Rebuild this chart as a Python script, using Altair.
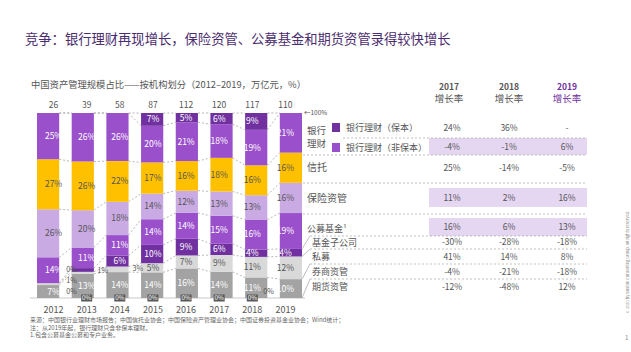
import altair as alt
import pandas as pd

# ---------------- data ----------------
years = ["2012", "2013", "2014", "2015", "2016", "2017", "2018", "2019"]
totals = [26, 39, 58, 87, 112, 120, 117, 110]

cats = ["期货资管", "券商资管", "私募", "基金子公司", "公募基金", "保险资管", "信托",
        "银行理财（非保本）", "银行理财（保本）"]
futures = [0, 0, 0, 0, 0, 0, 0, 0]
brokers = [7, 13, 14, 14, 16, 14, 11, 10]
private = [1, 1, 3, 5, 7, 9, 11, 12]
fund_sub = [0, 2, 6, 10, 9, 6, 4, 4]
mutual = [14, 11, 11, 14, 14, 15, 16, 19]
insurance = [26, 20, 18, 14, 12, 13, 13, 16]
trust = [27, 26, 22, 17, 16, 18, 16, 16]
bank_np = [25, 26, 26, 20, 21, 18, 19, 21]
bank_gp = [0, 0, 0, 7, 5, 6, 9, 0]
series = [futures, brokers, private, fund_sub, mutual, insurance, trust, bank_np, bank_gp]

row_labels = ["银行理财（保本）", "银行理财（非保本）", "信托", "保险资管", "公募基金¹",
              "基金子公司", "私募", "券商资管", "期货资管"]
g2017 = ["24%", "-4%", "25%", "11%", "16%", "-30%", "41%", "-4%", "-12%"]
g2018 = ["36%", "-1%", "-14%", "2%", "6%", "-28%", "14%", "-21%", "-48%"]
g2019 = ["-", "6%", "-5%", "16%", "13%", "-18%", "8%", "-18%", "12%"]

title = "竞争：银行理财再现增长，保险资管、公募基金和期货资管录得较快增长"
subtitle = "中国资产管理规模占比——按机构划分（2012–2019，万亿元，%）"
notes = ["来源：中国银行业理财市场报告；中国信托业协会；中国保险资产管理业协会；中国证券投资基金业协会；Wind统计；",
         "注：从2019年起，银行理财只含非保本理财。",
         "1.包含公募基金公募和专户业务。"]

# ---------------- styles / layout ----------------
colors = ["#595959", "#a3a3a3", "#d9d9d9", "#7030a0", "#9a4fcb", "#c9aae3", "#ffc000",
          "#9a4fcb", "#7030a0"]
white_cats = ["券商资管", "基金子公司", "公募基金", "银行理财（非保本）", "银行理财（保本）"]
FONT = "Noto Sans CJK SC"
GREY = "#555555"

xsc = alt.Scale(domain=years, range=[37, 302], paddingInner=0.36, paddingOuter=0)
ysc = alt.Scale(domain=[0, 1], range=[298, 113], nice=False, zero=False)

# ---------------- derived tables ----------------
seg_rows = []
for j, yr in enumerate(years):
    s = sum(ser[j] for ser in series)
    cum = 0
    for c, ser in zip(cats, series):
        v = ser[j]
        seg_rows.append(dict(year=yr, cat=c, v=v, y0=cum / s, y1=(cum + v) / s,
                             mid=(cum + v / 2) / s, label=f"{v}%"))
        cum += v
seg = pd.DataFrame(seg_rows)

conn_rows = []
for j in range(len(years) - 1):
    for c in cats[1:]:
        a = seg[(seg.year == years[j]) & (seg.cat == c)].iloc[0]
        b = seg[(seg.year == years[j + 1]) & (seg.cat == c)].iloc[0]
        conn_rows.append(dict(year=years[j], next=years[j + 1], ya=a.y1, yb=b.y1))
conn = pd.DataFrame(conn_rows)

tot = pd.DataFrame(dict(year=years, t=[str(t) for t in totals]))

bars = alt.Chart(seg).mark_bar().encode(
    x=alt.X("year:N", scale=xsc, axis=None),
    y=alt.Y("y0:Q", scale=ysc, axis=None),
    y2="y1:Q",
    color=alt.Color("cat:N", scale=alt.Scale(domain=cats, range=colors), legend=None),
)

inside = seg[(seg.v >= 4)]
lab_w = alt.Chart(inside[inside.cat.isin(white_cats)]).mark_text(
    fontSize=8.5, color="white", font=FONT).encode(
    x=alt.X("year:N", scale=xsc, axis=None), y=alt.Y("mid:Q", scale=ysc, axis=None), text="label:N")
lab_d = alt.Chart(inside[~inside.cat.isin(white_cats)]).mark_text(
    fontSize=8.5, color=GREY, font=FONT).encode(
    x=alt.X("year:N", scale=xsc, axis=None), y=alt.Y("mid:Q", scale=ysc, axis=None), text="label:N")

# small segments labelled outside the bar: (year, category, dx, dy)
outside = [("2012", "基金子公司", 18, -13), ("2012", "私募", 18, -3), ("2012", "期货资管", 18, -6),
           ("2013", "私募", 16, -2), ("2014", "私募", 18, 0), ("2019", "期货资管", -17, -6)]
out_layers = []
for yr, c, dx, dy in outside:
    d = seg[(seg.year == yr) & (seg.cat == c)]
    out_layers.append(alt.Chart(d).mark_text(fontSize=7.2, color=GREY, dx=dx, dy=dy, font=FONT).encode(
        x=alt.X("year:N", scale=xsc, axis=None), y=alt.Y("mid:Q", scale=ysc, axis=None), text="label:N"))

# dark 0% boxes for futures (2013–2018)
box_years = pd.DataFrame(dict(year=years[1:7], t=["0%"] * 6))
boxes = alt.Chart(box_years).mark_point(
    shape="M-1,-0.64H1V0.64H-1Z", size=121, filled=True, opacity=1, color="#595959").encode(
    x=alt.X("year:N", scale=xsc, axis=None), y=alt.Y(datum=0, scale=ysc, axis=None))
box_txt = alt.Chart(box_years).mark_text(fontSize=6.3, color="white", font=FONT).encode(
    x=alt.X("year:N", scale=xsc, axis=None), y=alt.Y(datum=0, scale=ysc, axis=None), text="t:N")

connectors = alt.Chart(conn).mark_rule(strokeDash=[2, 2], color="#9a9a9a", strokeWidth=0.7).encode(
    x=alt.X("year:N", scale=xsc, axis=None, bandPosition=1),
    x2=alt.X2("next:N", bandPosition=0),
    y=alt.Y("ya:Q", scale=ysc, axis=None),
    y2="yb:Q",
)

totals_txt = alt.Chart(tot).mark_text(fontSize=8.5, color=GREY, baseline="bottom", dy=-3, font=FONT).encode(
    x=alt.X("year:N", scale=xsc, axis=None), y=alt.Y(datum=1, scale=ysc, axis=None), text="t:N")
years_txt = alt.Chart(tot).mark_text(fontSize=9, color=GREY, font=FONT).encode(
    x=alt.X("year:N", scale=xsc, axis=None), y=alt.value(310), text="year:N")

baseline = alt.Chart(tot.head(1)).mark_rule(color="#bbbbbb", strokeWidth=0.8).encode(
    x=alt.value(30), x2=alt.value(305), y=alt.Y(datum=0, scale=ysc, axis=None))

# leader lines from the 2019 bar to the row labels
lead_cats = ["基金子公司", "私募", "券商资管", "期货资管"]
lead_ys = [236, 249, 264, 279]
lead_layers = []
for c, py in zip(lead_cats, lead_ys):
    d = seg[(seg.year == "2019") & (seg.cat == c)]
    lead_layers.append(alt.Chart(d).mark_rule(color="#a0a0a0", strokeWidth=0.7).encode(
        x=alt.X("year:N", scale=xsc, axis=None, bandPosition=1), x2=alt.value(310),
        y=alt.Y("y1:Q", scale=ysc, axis=None), y2=alt.value(py)))


def ptext(df, size, color, align="left", weight="normal", angle=0):
    return alt.Chart(df).mark_text(fontSize=size, color=color, align=align, baseline="middle",
                                   fontWeight=weight, angle=angle, font=FONT).encode(
        x=alt.X("px:Q", scale=None, axis=None), y=alt.Y("py:Q", scale=None, axis=None), text="t:N")


def prect(df, color):
    return alt.Chart(df).mark_rect(color=color).encode(
        x=alt.X("x1:Q", scale=None, axis=None), x2="x2:Q",
        y=alt.Y("y1:Q", scale=None, axis=None), y2="y2:Q")


# highlighted table rows
hl = pd.DataFrame(dict(x1=[429, 429, 429], x2=[587, 587, 587], y1=[138, 188, 218], y2=[155, 207, 236]))
highlight = prect(hl, "#e5d6f2")

# dashed row separators
sep = pd.DataFrame(dict(x1=[343, 303, 303, 303, 310, 310, 310, 310],
                        x2=[587] * 8,
                        y1=[138, 155, 183, 214, 236, 249, 264, 279]))
separators = alt.Chart(sep).mark_rule(strokeDash=[2, 2], color="#a8a8a8", strokeWidth=0.7).encode(
    x=alt.X("x1:Q", scale=None, axis=None), x2="x2:Q", y=alt.Y("y1:Q", scale=None, axis=None))

# legend squares
sq = pd.DataFrame(dict(x1=[332, 332], x2=[340, 340], y1=[123, 143], y2=[132, 152]))
sq_dark = prect(sq.head(1), "#7030a0")
sq_mid = prect(sq.tail(1), "#9a4fcb")

# right-side labels
bank_lbl = pd.DataFrame(dict(t=["银行", "理财"], px=[307, 307], py=[131, 144]))
big_lbl = pd.DataFrame(dict(t=["信托", "保险资管"], px=[307, 307], py=[168, 199]))
leg_lbl = pd.DataFrame(dict(t=row_labels[:2], px=[346, 346], py=[128, 148]))
small_lbl = pd.DataFrame(dict(t=row_labels[4:], px=[307, 312, 312, 312, 312], py=[229, 243, 257, 272, 287]))

row_y = [128, 147, 168, 198, 227, 242, 257, 272, 287]
tab = pd.DataFrame(dict(t=g2017 + g2018 + g2019,
                        px=[452] * 9 + [509] * 9 + [567] * 9,
                        py=row_y * 3))

hdr_year = pd.DataFrame(dict(t=["2017", "2018"], px=[449, 509], py=[87, 87]))
hdr_rate = pd.DataFrame(dict(t=["增长率", "增长率"], px=[449, 509], py=[99, 99]))
hdr_2019 = pd.DataFrame(dict(t=["2019"], px=[567], py=[87]))
hdr_2019r = pd.DataFrame(dict(t=["增长率"], px=[567], py=[99]))

arrow = pd.DataFrame(dict(t=["←100%"], px=[304], py=[113]))
title_df = pd.DataFrame(dict(t=[title], px=[25], py=[40]))
sub_df = pd.DataFrame(dict(t=[subtitle], px=[31], py=[85]))
notes_df = pd.DataFrame(dict(t=notes, px=[30, 30, 30], py=[320, 327.5, 335]))
copy_df = pd.DataFrame(dict(t=["© 2020 by Boston Consulting Group. All rights reserved."], px=[628], py=[262]))
page_df = pd.DataFrame(dict(t=["1"], px=[625], py=[338]))

layers = [
    highlight, separators, connectors, baseline, bars, lab_w, lab_d, *out_layers, boxes, box_txt,
    totals_txt, years_txt, *lead_layers, sq_dark, sq_mid,
    ptext(bank_lbl, 9.5, GREY), ptext(big_lbl, 10, GREY),
    ptext(leg_lbl, 9, GREY), ptext(small_lbl, 9, GREY),
    ptext(tab, 8.5, GREY, align="center"),
    ptext(hdr_year, 8.5, GREY, align="center", weight="bold"),
    ptext(hdr_rate, 9.5, GREY, align="center"),
    ptext(hdr_2019, 8.5, "#7030a0", align="center", weight="bold"),
    ptext(hdr_2019r, 9.5, "#7030a0", align="center"),
    ptext(arrow, 6.5, GREY),
    ptext(title_df, 13.3, "#4b2c6e"),
    ptext(sub_df, 9.3, GREY),
    ptext(notes_df, 6, "#666666"),
    ptext(copy_df, 4, "#888888", align="center", angle=270),
    ptext(page_df, 6, "#888888"),
]

chart = alt.layer(*layers).resolve_scale(
    x="independent", y="independent", color="independent"
).properties(
    width=631, height=352, autosize=alt.AutoSizeParams(type="none"), padding=0, background="white"
).configure_view(strokeWidth=0)

chart.save("out.html", embed_options={"renderer": "svg", "actions": False})
